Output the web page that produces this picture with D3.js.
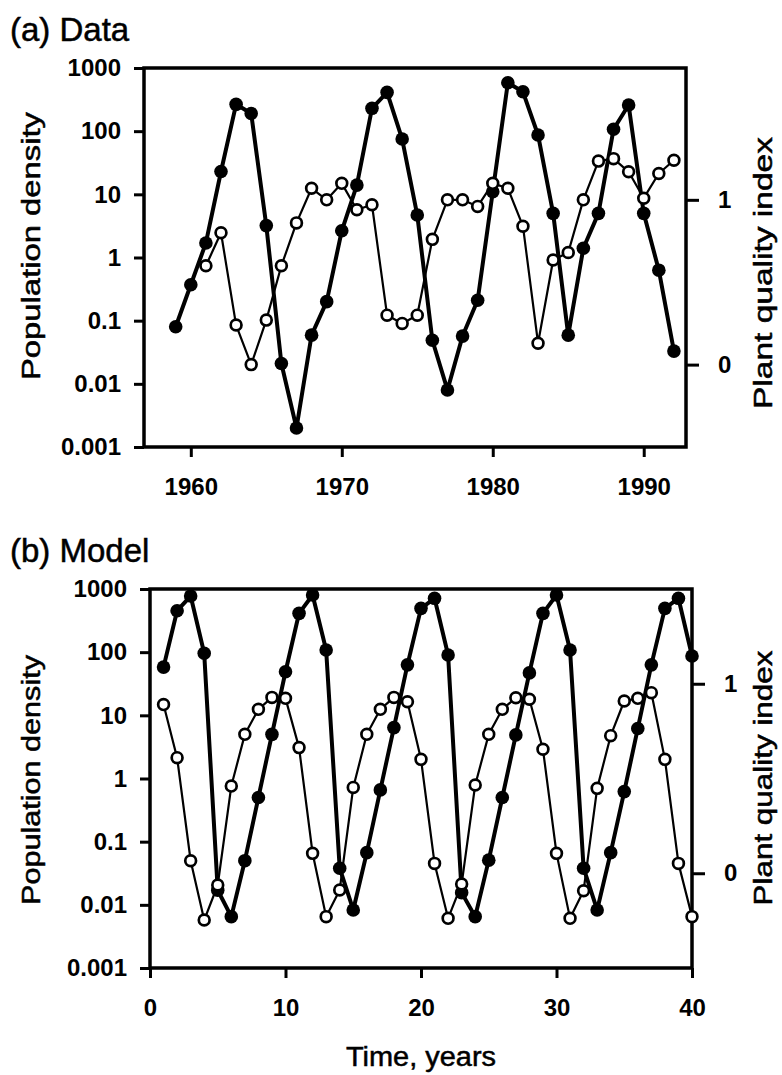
<!DOCTYPE html>
<html>
<head>
<meta charset="utf-8">
<script src="https://cdn.jsdelivr.net/npm/d3@7"></script>
<style>
  body { margin: 0; background: #fff; }
  svg text { font-family: "Liberation Sans", Arial, Helvetica, sans-serif; fill: #000; }
  svg text.title { stroke: #000; stroke-width: 0.5px; }
</style>
</head>
<body>
<div id="chart"></div>
<script>
// (a) Data: field observations
const dataYears = [1959, 1960, 1961, 1962, 1963, 1964, 1965, 1966, 1967, 1968, 1969, 1970,
    1971, 1972, 1973, 1974, 1975, 1976, 1977, 1978, 1979, 1980, 1981, 1982, 1983, 1984,
    1985, 1986, 1987, 1988, 1989, 1990, 1991, 1992];
const dataDensity = [0.08, 0.37, 1.7, 23, 266, 190, 3.2, 0.021, 0.002, 0.059, 0.2, 2.65,
    14, 230, 412, 75, 4.7, 0.049, 0.008, 0.057, 0.21, 11, 585, 420, 87, 5.0,
    0.059, 1.4, 5.0, 107, 260, 5.0, 0.63, 0.033];
const qualityYears = [1961, 1962, 1963, 1964, 1965, 1966, 1967, 1968, 1969, 1970,
    1971, 1972, 1973, 1974, 1975, 1976, 1977, 1978, 1979, 1980, 1981, 1982, 1983, 1984,
    1985, 1986, 1987, 1988, 1989, 1990, 1991, 1992];
const dataQuality = [0.60, 0.80, 0.24, 0.00, 0.27, 0.60, 0.86, 1.07, 1.00, 1.10,
    0.94, 0.97, 0.30, 0.25, 0.30, 0.76, 1.00, 1.00, 0.96, 1.10, 1.07, 0.84, 0.13, 0.635,
    0.68, 1.00, 1.235, 1.25, 1.17, 1.01, 1.16, 1.24];

// (b) Model run
const modelTimes = [1, 2, 3, 4, 5, 6, 7, 8, 9, 10, 11, 12, 13, 14, 15, 16, 17, 18, 19, 20,
    21, 22, 23, 24, 25, 26, 27, 28, 29, 30, 31, 32, 33, 34, 35, 36, 37, 38, 39, 40];
const modelDensity = [58, 453, 774, 96, 0.017, 0.0065, 0.05, 0.5, 5.0, 49,
    412, 803, 108, 0.038, 0.0083, 0.067, 0.66, 6.4, 63, 494,
    712, 90, 0.0156, 0.0065, 0.051, 0.5, 4.9, 47, 412, 803,
    108, 0.038, 0.0083, 0.067, 0.62, 6.2, 63, 494, 712, 87];
const modelQuality = [0.89, 0.61, 0.066, -0.247, -0.062, 0.46, 0.733, 0.865, 0.928, 0.923,
    0.663, 0.105, -0.229, -0.088, 0.453, 0.733, 0.865, 0.928, 0.905, 0.601,
    0.052, -0.238, -0.057, 0.466, 0.733, 0.865, 0.926, 0.918, 0.654, 0.105,
    -0.238, -0.092, 0.448, 0.726, 0.909, 0.923, 0.953, 0.601, 0.052, -0.229];

// tick labels
const densityTicks = [0.001, 0.01, 0.1, 1, 10, 100, 1000];
const densityTickLabels = ['0.001', '0.01', '0.1', '1', '10', '100', '1000'];
const qualityTicks = [0, 1];
const qualityTickLabels = ['0', '1'];
const yearTicks = [1960, 1970, 1980, 1990];
const yearTickLabels = ['1960', '1970', '1980', '1990'];
const timeTicks = [0, 10, 20, 30, 40];
const timeTickLabels = ['0', '10', '20', '30', '40'];

const svg = d3.select('#chart')
    .append('svg')
    .attr('width', 782)
    .attr('height', 1075);

function styleAxis(sel) {
    sel.select('.domain').remove();
    sel.selectAll('line').attr('stroke', '#000').attr('stroke-width', 3);
    sel.selectAll('text')
        .style('font-size', '24px')
        .style('font-weight', 'bold');
}

function drawPanel(p) {
    const g = svg.append('g');

    const x = d3.scaleLinear().domain(p.xDomain).range([p.left, p.right]);
    const y = d3.scaleLog().domain([0.001, 1000]).range([p.bottom, p.top]);
    const y2 = d3.scaleLinear().domain(p.qDomain).range([p.bottom, p.top]);

    // Axes
    g.append('g')
        .attr('transform', `translate(${p.left},0)`)
        .call(d3.axisLeft(y)
            .tickValues(densityTicks)
            .tickFormat((d, i) => densityTickLabels[i])
            .tickSize(10).tickPadding(13))
        .call(styleAxis);

    g.append('g')
        .attr('transform', `translate(${p.right},0)`)
        .call(d3.axisRight(y2)
            .tickValues(qualityTicks)
            .tickFormat((d, i) => qualityTickLabels[i])
            .tickSize(13).tickPadding(19))
        .call(styleAxis);

    g.append('g')
        .attr('transform', `translate(0,${p.bottom})`)
        .call(d3.axisBottom(x)
            .tickValues(p.xTicks)
            .tickFormat((d, i) => p.xTickLabels[i])
            .tickSize(10).tickPadding(21))
        .call(styleAxis);

    // Frame
    g.append('rect')
        .attr('x', p.left)
        .attr('y', p.top)
        .attr('width', p.right - p.left)
        .attr('height', p.bottom - p.top)
        .attr('fill', 'none')
        .attr('stroke', '#000')
        .attr('stroke-width', 3.5);

    // Population density (filled)
    const dens = d3.zip(p.xs, p.density);
    g.append('path')
        .datum(dens)
        .attr('fill', 'none')
        .attr('stroke', '#000')
        .attr('stroke-width', 4)
        .attr('stroke-linejoin', 'round')
        .attr('d', d3.line().x(d => x(d[0])).y(d => y(d[1])));
    g.selectAll('.dens')
        .data(dens)
        .enter()
        .append('circle')
        .attr('class', 'dens')
        .attr('cx', d => x(d[0]))
        .attr('cy', d => y(d[1]))
        .attr('r', 6.8)
        .attr('fill', '#000');

    // Plant quality (open)
    const qual = d3.zip(p.qxs, p.quality);
    g.append('path')
        .datum(qual)
        .attr('fill', 'none')
        .attr('stroke', '#000')
        .attr('stroke-width', 2.2)
        .attr('stroke-linejoin', 'round')
        .attr('d', d3.line().x(d => x(d[0])).y(d => y2(d[1])));
    g.selectAll('.qual')
        .data(qual)
        .enter()
        .append('circle')
        .attr('class', 'qual')
        .attr('cx', d => x(d[0]))
        .attr('cy', d => y2(d[1]))
        .attr('r', 5.4)
        .attr('fill', '#fff')
        .attr('stroke', '#000')
        .attr('stroke-width', 2.7);

    // Titles
    g.append('text')
        .attr('class', 'title')
        .attr('x', 10)
        .attr('y', p.top - 27)
        .style('font-size', '33px')
        .text(p.title);

    g.append('text')
        .attr('class', 'title')
        .attr('transform', `translate(40,${p.leftLabelY}) rotate(-90)`)
        .attr('text-anchor', 'middle')
        .attr('textLength', p.leftLabelLen)
        .attr('lengthAdjust', 'spacingAndGlyphs')
        .style('font-size', '26px')
        .text('Population density');

    g.append('text')
        .attr('class', 'title')
        .attr('transform', `translate(772,${p.rightLabelY}) rotate(-90)`)
        .attr('text-anchor', 'middle')
        .attr('textLength', p.rightLabelLen)
        .attr('lengthAdjust', 'spacingAndGlyphs')
        .style('font-size', '26px')
        .text('Plant quality index');

    return x;
}

drawPanel({
    title: '(a) Data',
    left: 144, right: 686, top: 68, bottom: 447,
    xDomain: [1956.9, 1992.8],
    qDomain: [-0.5, 1.8],
    xTicks: yearTicks, xTickLabels: yearTickLabels,
    xs: dataYears, density: dataDensity,
    qxs: qualityYears, quality: dataQuality,
    leftLabelY: 246, leftLabelLen: 268,
    rightLabelY: 273, rightLabelLen: 272
});

drawPanel({
    title: '(b) Model',
    left: 150, right: 692, top: 589, bottom: 968,
    xDomain: [0, 40],
    qDomain: [-0.5, 1.5],
    xTicks: timeTicks, xTickLabels: timeTickLabels,
    xs: modelTimes, density: modelDensity,
    qxs: modelTimes, quality: modelQuality,
    leftLabelY: 780, leftLabelLen: 250,
    rightLabelY: 778, rightLabelLen: 255
});

// x-axis title
svg.append('text')
    .attr('class', 'title')
    .attr('x', 421)
    .attr('y', 1066)
    .attr('text-anchor', 'middle')
    .attr('textLength', 150)
    .attr('lengthAdjust', 'spacingAndGlyphs')
    .style('font-size', '27px')
    .text('Time, years');
</script>
</body>
</html>
